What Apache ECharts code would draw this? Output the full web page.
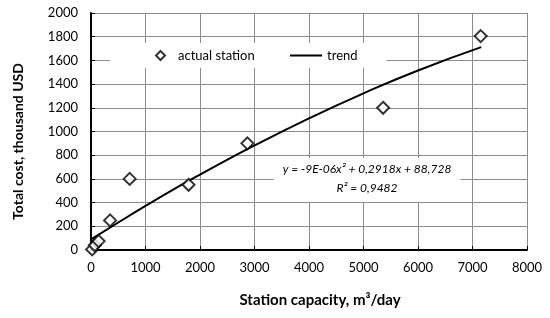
<!DOCTYPE html>
<html>
<head>
<meta charset="utf-8">
<script src="https://cdn.jsdelivr.net/npm/echarts@6/dist/echarts.min.js"></script>
<style>
  html, body { margin: 0; padding: 0; background: #fff; }
  #chart { width: 550px; height: 318px; }
</style>
</head>
<body>
<div id="chart"></div>
<script>
// measured stations
const capacity = [20, 70, 140, 350, 710, 1790, 2870, 5360, 7150];
const cost = [5, 40, 75, 250, 600, 550, 900, 1200, 1805];
// trend line
const trendX = [0, 500, 1000, 1500, 2000, 3000, 4000, 5000, 6000, 7160];
const trendY = [89, 232, 372, 508, 636, 882, 1111, 1322, 1515, 1712];
const equation = ['y = -9E-06x² + 0,2918x + 88,728', 'R² = 0,9482'];

const font = 'Lato';
const chart = echarts.init(document.getElementById('chart'), null, { renderer: 'canvas' });

chart.setOption({
  animation: false,
  textStyle: { fontFamily: font, color: '#000' },
  grid: { left: 91, right: 23, top: 13, bottom: 68 },
  title: {
    text: equation.join('\n'),
    left: 358,
    top: 158,
    textAlign: 'center',
    backgroundColor: '#fff',
    padding: [2, 9, 4, 9],
    textStyle: {
      fontFamily: font, fontSize: 12, fontStyle: 'italic', fontWeight: 'normal',
      color: '#000', lineHeight: 19, align: 'center'
    }
  },
  legend: [{
    data: ['actual station'],
    left: 110, top: 43,
    backgroundColor: '#fff',
    padding: [6, 40, 6, 45],
    itemWidth: 9, itemHeight: 9,
    itemGap: 0,
    textStyle: { fontFamily: font, fontSize: 13, color: '#000', padding: [0, 0, 0, 8] }
  }, {
    data: [{ name: 'trend', icon: 'path://M0,0 L32,0 L32,2 L0,2 Z' }],
    left: 285, top: 43,
    backgroundColor: '#fff',
    padding: [6, 29, 6, 5],
    itemWidth: 32, itemHeight: 2,
    itemStyle: { color: '#000' },
    textStyle: { fontFamily: font, fontSize: 13, color: '#000' }
  }],
  xAxis: {
    type: 'value', min: 0, max: 8000, interval: 1000,
    name: 'Station capacity, m³/day',
    nameLocation: 'middle', nameGap: 43,
    nameTextStyle: { fontFamily: font, fontSize: 15, fontWeight: 'bold', color: '#000', padding: [0, 0, 0, 22] },
    axisLine: { lineStyle: { color: '#000', width: 2 } },
    axisTick: { inside: true, length: 4, lineStyle: { color: '#000' } },
    axisLabel: { fontFamily: font, fontSize: 13, color: '#000', margin: 11, formatter: v => String(v) },
    splitLine: { show: true, lineStyle: { color: '#8c8c8c', width: 1 } }
  },
  yAxis: {
    type: 'value', min: 0, max: 2000, interval: 200,
    name: 'Total cost, thousand USD',
    nameLocation: 'middle', nameGap: 66,
    nameTextStyle: { fontFamily: font, fontSize: 14, fontWeight: 'bold', color: '#000', padding: [0, 20, 0, 0] },
    axisLine: { show: true, lineStyle: { color: '#000', width: 2 } },
    axisTick: { show: true, inside: true, length: 4, lineStyle: { color: '#000' } },
    axisLabel: { fontFamily: font, fontSize: 13, color: '#000', margin: 13, formatter: v => String(v) },
    splitLine: { show: true, lineStyle: { color: '#8c8c8c', width: 1 } }
  },
  series: [{
    name: 'trend',
    type: 'line',
    data: trendX.map((x, i) => [x, trendY[i]]),
    smooth: true,
    symbol: 'none',
    lineStyle: { color: '#000', width: 2 },
    itemStyle: { color: '#000' },
    z: 2
  }, {
    name: 'actual station',
    type: 'scatter',
    data: capacity.map((x, i) => [x, cost[i]]),
    symbol: 'diamond',
    symbolSize: 12,
    itemStyle: { color: '#fff', borderColor: '#000', borderWidth: 2 },
    z: 3
  }]
});
</script>
</body>
</html>
